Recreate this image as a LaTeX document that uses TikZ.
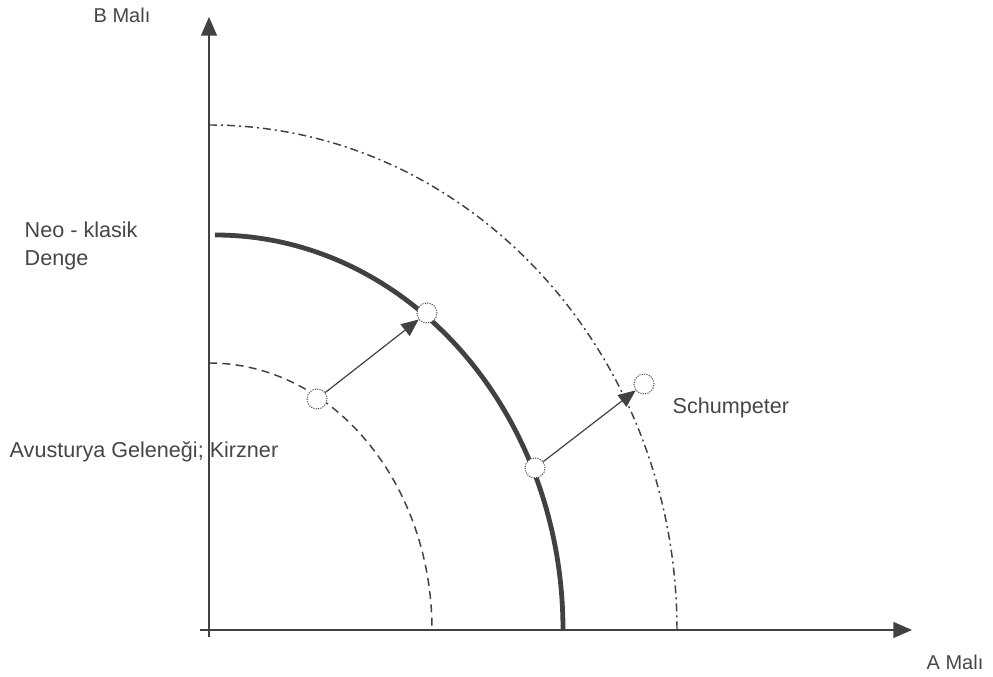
\documentclass[tikz,border=0pt]{standalone}
\usepackage{fontspec}
\setmainfont{Liberation Sans}
\usetikzlibrary{arrows.meta}
\definecolor{ink}{RGB}{65,65,65}
\definecolor{txt}{RGB}{70,70,70}
\tikzset{axis/.style={-{Triangle[length=14pt,width=12pt]},line width=1pt,ink},
 shift arrow/.style={-{Triangle[length=13pt,width=11pt]},line width=0.9pt,ink},
 frontier/.style={line width=3.6pt,ink},
 kirzner line/.style={line width=1.1pt,ink,dash pattern=on 6pt off 4pt},
 schumpeter line/.style={line width=1.1pt,ink,dash pattern=on 6pt off 3pt on 1.5pt off 3pt},
 point/.style={circle,draw=ink,densely dotted,line width=0.8pt,minimum size=15pt,inner sep=0pt,fill=white},
 axis label/.style={font=\fontsize{15}{18}\selectfont},
 every node/.style={font=\fontsize{16.2}{21}\selectfont,text=txt}}

\begin{document}
\begin{tikzpicture}[x=0.75pt,y=0.75pt]
\useasboundingbox (0,0) rectangle (993,677);
\coordinate (O) at (209,47);
% axes
\coordinate (xstart) at (200,47);
\coordinate (xend) at (912,47);
\coordinate (ystart) at (209,40);
\coordinate (yend) at (209,660);
\draw[axis] (xstart)--(xend);
\draw[axis] (ystart)--(yend);
% production possibility curves
\draw[kirzner line] (209,314) arc[start angle=90,end angle=0,x radius=223,y radius=267];
\draw[frontier] (215,442) arc[start angle=90,end angle=0,x radius=348,y radius=395];
\draw[schumpeter line] (209,552) arc[start angle=90,end angle=0,x radius=468,y radius=505];
% points and shifts
\node[point] (k1) at (317,278) {};
\node[point] (k2) at (427,364) {};
\node[point] (s1) at (535,209) {};
\node[point] (s2) at (644,293) {};
\draw[shift arrow] (k1)--(k2);
\draw[shift arrow] (s1)--(s2);
% labels
\node[axis label] (bgood) at (122,662) {B Malı};
\node[axis label] (agood) at (955,15) {A Malı};
\node[anchor=west,align=left] (neo) at (20,431) {Neo - klasik\\Denge};
\node[anchor=west] (austrian) at (5,225) {Avusturya Geleneği; Kirzner};
\node[anchor=west] (schum) at (668,269) {Schumpeter};
\end{tikzpicture}
\end{document}
